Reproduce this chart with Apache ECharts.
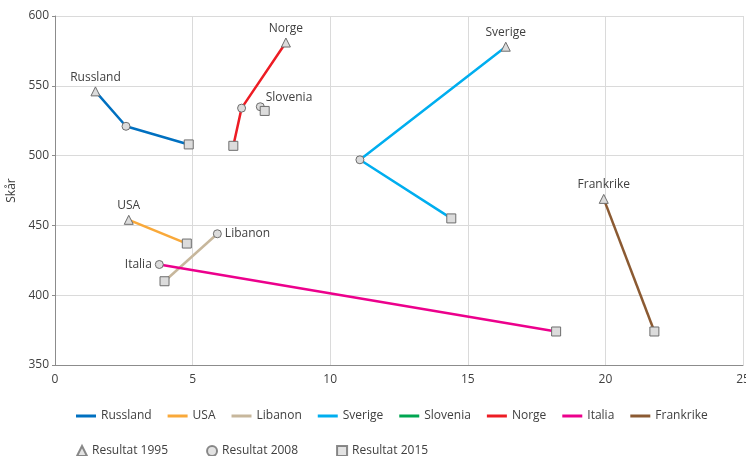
<!DOCTYPE html>
<html>
<head>
<meta charset="utf-8">
<script src="https://cdn.jsdelivr.net/npm/echarts@6/dist/echarts.min.js"></script>
<style>
  html, body { margin: 0; padding: 0; background: #fff; }
  #chart { width: 746px; height: 456px; }
</style>
</head>
<body>
<div id="chart"></div>
<script>
// land og farger
var countries = ['Russland', 'USA', 'Libanon', 'Sverige', 'Slovenia', 'Norge', 'Italia', 'Frankrike'];
var colors = ['#0070c0', '#f9a93a', '#c7b79c', '#00aeef', '#00a651', '#ed1c24', '#ec008c', '#8b5a32'];

// hvilke år hvert punkt hører til (1995, 2008, 2015)
var years = ['Resultat 1995', 'Resultat 2008', 'Resultat 2015'];
var yearSymbols = ['triangle', 'circle', 'rect'];

// [x, skår, årindeks] per land
var russland = [[1.47, 546, 0], [2.58, 521, 1], [4.86, 508, 2]];
var usa = [[2.68, 454, 0], [4.79, 437, 2]];
var libanon = [[5.90, 444, 1], [3.98, 410, 2]];
var sverige = [[16.38, 578, 0], [11.08, 497, 1], [14.40, 455, 2]];
var slovenia = [[7.46, 535, 1], [7.62, 532, 2]];
var norge = [[8.39, 581, 0], [6.78, 534, 1], [6.48, 507, 2]];
var italia = [[3.79, 422, 1], [18.21, 374, 2]];
var frankrike = [[19.94, 469, 0], [21.78, 374, 2]];

var allData = [russland, usa, libanon, sverige, slovenia, norge, italia, frankrike];
// etikett-posisjon for første punkt
var labelPos = ['top', 'top', 'right', 'top', ['110%', '-120%'], 'top', 'left', 'top'];

var chart = echarts.init(document.getElementById('chart'));

var markerStyle = { color: '#dcdcdc', borderColor: '#6d6d6d', borderWidth: 1 };
var textColor = '#404040';

var series = [];
countries.forEach(function (name, i) {
  series.push({
    name: name,
    type: 'line',
    color: colors[i],
    lineStyle: { width: 2.5, color: colors[i] },
    symbolSize: 8,
    z: 3,
    data: allData[i].map(function (p, j) {
      var item = {
        value: [p[0], p[1]],
        symbol: yearSymbols[p[2]],
        symbolSize: p[2] === 1 ? 8 : 9,
        itemStyle: markerStyle
      };
      if (j === 0) {
        item.label = {
          show: true,
          position: labelPos[i],
          distance: 3,
          formatter: name,
          color: textColor,
          fontSize: 12,
          fontFamily: 'Open Sans'
        };
      }
      return item;
    })
  });
});

// dummy-serier for symbolforklaringen
years.forEach(function (y, i) {
  series.push({
    name: y,
    type: 'scatter',
    symbol: yearSymbols[i],
    itemStyle: markerStyle,
    data: []
  });
});

var legendText = { color: textColor, fontSize: 12, fontFamily: 'Open Sans' };

var option = {
  backgroundColor: '#fff',
  animation: false,
  grid: { left: 55, right: 3, top: 16, bottom: 91, outerBoundsMode: 'none' },
  legend: [
    {
      data: countries,
      left: 71,
      top: 405,
      icon: 'rect',
      itemWidth: 20,
      itemHeight: 3,
      itemGap: 16,
      textStyle: legendText
    },
    {
      data: years,
      left: 71,
      top: 440,
      itemWidth: 10,
      itemHeight: 10,
      itemGap: 38,
      textStyle: legendText
    }
  ],
  xAxis: {
    type: 'value',
    min: 0,
    max: 25,
    interval: 5,
    axisLine: { show: true, lineStyle: { color: '#8c8c8c' } },
    axisTick: { show: false },
    axisLabel: { color: textColor, fontSize: 12, fontFamily: 'Open Sans', margin: 9 },
    splitLine: { lineStyle: { color: '#dadada' } }
  },
  yAxis: {
    type: 'value',
    min: 350,
    max: 600,
    interval: 50,
    name: 'Skår',
    nameLocation: 'middle',
    nameGap: 32,
    nameTextStyle: { color: textColor, fontSize: 12, fontFamily: 'Open Sans' },
    axisLine: { show: true, lineStyle: { color: '#8c8c8c' } },
    axisTick: { show: true, length: 3, lineStyle: { color: '#8c8c8c' } },
    axisLabel: { color: textColor, fontSize: 12, fontFamily: 'Open Sans', margin: 6 },
    splitLine: { lineStyle: { color: '#dadada' } }
  },
  series: series
};

chart.setOption(option);
</script>
</body>
</html>
